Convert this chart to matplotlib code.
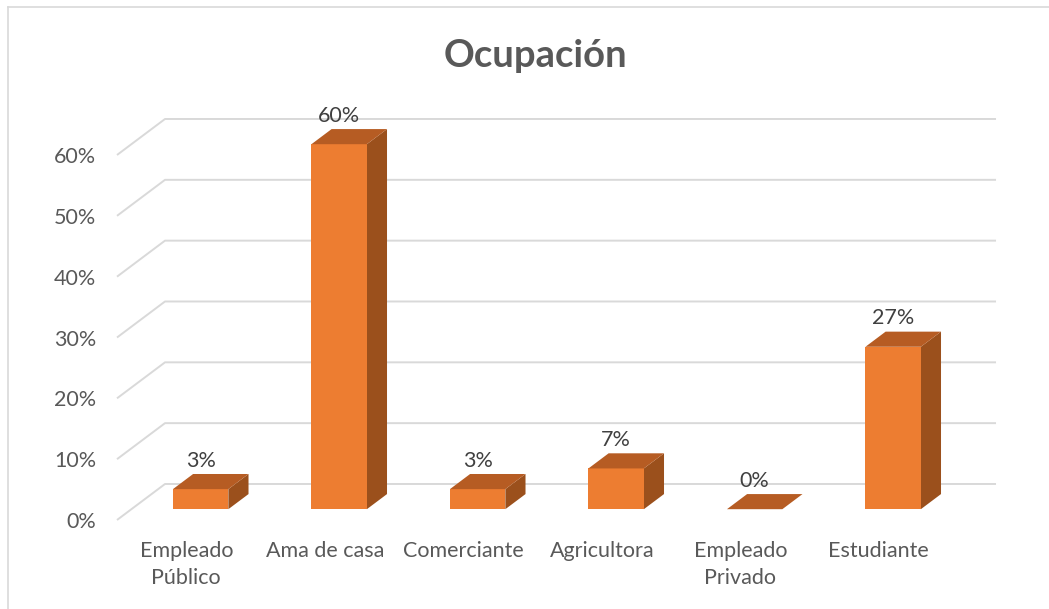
import matplotlib
matplotlib.use("Agg")
import matplotlib.pyplot as plt
from matplotlib.patches import Polygon
from matplotlib.lines import Line2D

plt.rcParams["font.family"] = ["Lato", "DejaVu Sans"]

categorias = ["Empleado\nPúblico", "Ama de casa", "Comerciante", "Agricultora",
              "Empleado\nPrivado", "Estudiante"]
porcentajes = [3.3, 60.0, 3.3, 6.7, 0.0, 26.7]
ticks_y = [0, 10, 20, 30, 40, 50, 60]

# perspectiva: desplazamiento por unidad de profundidad (en unidades de datos)
DX = 0.3466
DY = 5.92
D_FRENTE = 0.3
D_FONDO = 0.72
ANCHO = 0.4

C_FRENTE = "#ED7D31"
C_ARRIBA = "#B65C23"
C_LADO = "#9B501C"
C_GRID = "#D9D9D9"
C_TEXTO = "#595959"


def proj(x, y, d):
    return (x + d * DX, y + d * DY)


fig = plt.figure(figsize=(10.49, 6.09), dpi=100)
ax = fig.add_axes([117 / 1049, 89 / 609, 831 / 1049, 365 / 609])
ax.set_xlim(-0.5, len(categorias) - 0.5)
ax.set_ylim(0, 60)

x_izq = -0.5
x_der = len(categorias) - 0.5
for t in ticks_y:
    p0 = proj(x_izq, t, 0)
    p1 = proj(x_izq, t, 1)
    p2 = proj(x_der, t, 1)
    ax.plot([p0[0], p1[0], p2[0]], [p0[1], p1[1], p2[1]], color=C_GRID,
            lw=1.4, zorder=1, clip_on=False, solid_capstyle="butt")

for i, v in enumerate(porcentajes):
    x0 = i - ANCHO / 2
    x1 = i + ANCHO / 2
    lado = [proj(x1, 0, D_FRENTE), proj(x1, 0, D_FONDO), proj(x1, v, D_FONDO), proj(x1, v, D_FRENTE)]
    arriba = [proj(x0, v, D_FRENTE), proj(x1, v, D_FRENTE), proj(x1, v, D_FONDO), proj(x0, v, D_FONDO)]
    frente = [proj(x0, 0, D_FRENTE), proj(x1, 0, D_FRENTE), proj(x1, v, D_FRENTE), proj(x0, v, D_FRENTE)]
    if v > 0:
        ax.add_patch(Polygon(lado, closed=True, facecolor=C_LADO, edgecolor="none", zorder=3, clip_on=False))
        ax.add_patch(Polygon(frente, closed=True, facecolor=C_FRENTE, edgecolor="none", zorder=3, clip_on=False))
    ax.add_patch(Polygon(arriba, closed=True, facecolor=C_ARRIBA, edgecolor="none", zorder=3, clip_on=False))
    lx, _ = proj(i, v, D_FRENTE)
    _, ly = proj(i, v, D_FONDO)
    ax.annotate(f"{v:.0f}%", (lx, ly), xytext=(0, 2.5), textcoords="offset points",
                ha="center", va="bottom", fontsize=15.5, color="#404040", zorder=4,
                annotation_clip=False)

ax.set_xticks(range(len(categorias)))
ax.set_xticklabels(categorias, fontsize=15.5, color=C_TEXTO, linespacing=1.45)
ax.set_yticks(ticks_y)
ax.set_yticklabels([f"{t}%" for t in ticks_y], fontsize=15.5, color=C_TEXTO)
ax.tick_params(axis="x", length=0, pad=15)
ax.tick_params(axis="y", length=0, pad=15)
for s in ax.spines.values():
    s.set_visible(False)
ax.patch.set_visible(False)

fig.text(535 / 1049, 1 - 67 / 609, "Ocupación", ha="center", va="baseline",
         fontsize=27.5, fontweight="bold", color=C_TEXTO)

# borde del area del grafico
fig.add_artist(Line2D([7.5 / 1049, 1], [1 - 6.5 / 609, 1 - 6.5 / 609], color=C_GRID, lw=1.2))
fig.add_artist(Line2D([7.5 / 1049, 7.5 / 1049], [0, 1 - 6.5 / 609], color=C_GRID, lw=1.2))

fig.savefig("out.png", dpi=100)
